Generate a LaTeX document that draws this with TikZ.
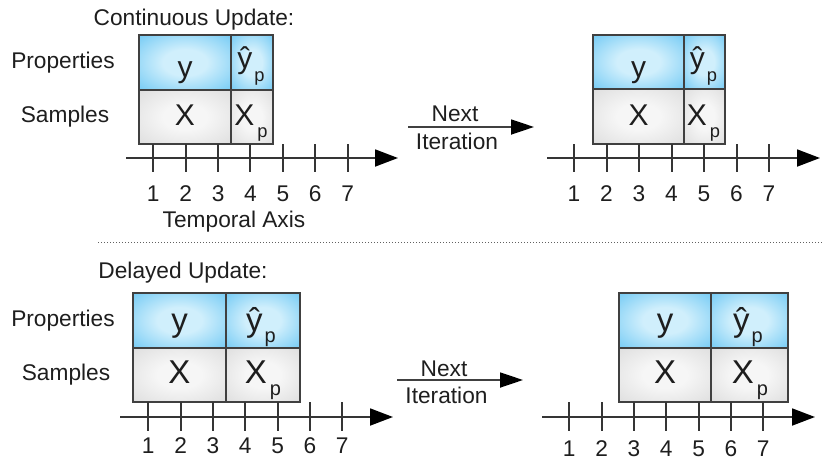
\documentclass[tikz,border=0pt]{standalone}
\usepackage{fontspec}
\setmainfont{Liberation Sans}
\usetikzlibrary{arrows.meta}
\definecolor{bluein}{RGB}{208,239,252}
\definecolor{blueout}{RGB}{62,181,240}
\definecolor{grayin}{RGB}{246,246,246}
\definecolor{grayout}{RGB}{208,208,208}
\definecolor{ink}{RGB}{30,30,30}
\pgfdeclareradialshading{blueshade}{\pgfpoint{0bp}{0bp}}{color(0bp)=(bluein); color(12bp)=(bluein); color(50bp)=(blueout); color(75bp)=(blueout)}
\pgfdeclareradialshading{grayshade}{\pgfpoint{0bp}{0bp}}{color(0bp)=(grayin); color(12bp)=(grayin); color(50bp)=(grayout); color(75bp)=(grayout)}
\newcommand{\yhp}[2]{ŷ\kern2pt\raisebox{#1}{\fontsize{#2}{#2}\selectfont p}}
\newcommand{\Xsp}[2]{X\kern3pt\raisebox{#1}{\fontsize{#2}{#2}\selectfont p}}
\tikzset{
  cell/.style={draw=ink!85, line width=1.7pt, inner sep=0pt, shade},
  bluecell/.style={cell, shading=blueshade},
  graycell/.style={cell, shading=grayshade},
  big/.style={anchor=base, inner sep=0pt, text=ink, font=\fontsize{30}{30}\selectfont},
  bigger/.style={anchor=base, inner sep=0pt, text=ink, font=\fontsize{33}{33}\selectfont},
  lbl/.style={anchor=base, inner sep=0pt, text=ink, font=\fontsize{22.7}{23}\selectfont},
  axisline/.style={draw=ink!90, line width=1.8pt, -{Triangle[length=23pt,width=17pt,black]}},
  tickline/.style={draw=ink!90, line width=1.6pt},
  nextarrow/.style={draw=ink!85, line width=1.8pt, -{Triangle[length=23pt,width=15pt,black]}},
}
\begin{document}
\begin{tikzpicture}[x=1pt,y=-1pt]
\useasboundingbox (0,0) rectangle (822,461);
% ---------------- top-left
\node[lbl] (tlTitle) at (194,25) {Continuous Update:};
\node[lbl] (tlProp) at (63,68) {Properties};
\node[lbl] (tlSamp) at (65,122.5) {Samples};
\node[bluecell, minimum width=92pt, minimum height=55pt] (tlY) at (185,62.5) {};
\node[bluecell, minimum width=42pt, minimum height=55pt] (tlYp) at (252,62.5) {};
\node[graycell, minimum width=92pt, minimum height=54pt] (tlX) at (185,117) {};
\node[graycell, minimum width=42pt, minimum height=54pt] (tlXp) at (252,117) {};
\node[big] (tlYt) at (185,77) {y};
\node[big] (tlYpt) at (251,68.7) {\yhp{-12.3pt}{18.3}};
\node[big] (tlXt) at (185,125) {X};
\node[big] (tlXpt) at (251,125.5) {\Xsp{-11.5pt}{18.3}};
\coordinate (tlA0) at (126,158);
\coordinate (tlA1) at (398,158);
\draw[axisline] (tlA0) -- (tlA1);
\foreach \i in {1,...,7}{
  \coordinate (tlT\i) at ({round(153.3+32.4*(\i-1))},144);
  \draw[tickline] (tlT\i) -- ++(0,28);
  \node[lbl] (tlN\i) at ({153.3+32.4*(\i-1)},201.5) {\i};
}
\node[lbl] (tlAxis) at (234,227.5) {Temporal Axis};
% next arrow top
\coordinate (tnA0) at (408,127);
\coordinate (tnA1) at (534,127);
\draw[nextarrow] (tnA0) -- (tnA1);
\node[lbl] (tnNext) at (455,121.7) {Next};
\node[lbl] (tnIter) at (457,149) {Iteration};
% ---------------- top-right
\node[bluecell, minimum width=91pt, minimum height=54pt] (trY) at (638.5,62) {};
\node[bluecell, minimum width=41pt, minimum height=54pt] (trYp) at (704.5,62) {};
\node[graycell, minimum width=91pt, minimum height=55pt] (trX) at (638.5,116.5) {};
\node[graycell, minimum width=41pt, minimum height=55pt] (trXp) at (704.5,116.5) {};
\node[big] (trYt) at (638.5,77) {y};
\node[big] (trYpt) at (703.5,68.7) {\yhp{-12.3pt}{18.3}};
\node[big] (trXt) at (638.5,125) {X};
\node[big] (trXpt) at (703.5,125.5) {\Xsp{-11.5pt}{18.3}};
\coordinate (trA0) at (547,158);
\coordinate (trA1) at (820,158);
\draw[axisline] (trA0) -- (trA1);
\foreach \i in {1,...,7}{
  \coordinate (trT\i) at ({round(574+32.5*(\i-1))},144);
  \draw[tickline] (trT\i) -- ++(0,28);
  \node[lbl] (trN\i) at ({574+32.5*(\i-1)},201.5) {\i};
}
% separator
\coordinate (sep0) at (98,242);
\coordinate (sep1) at (822,242);
\draw[ink!70, line width=1pt, dash pattern=on 1.2pt off 1.8pt] (sep0) -- (sep1);
% ---------------- bottom-left
\node[lbl] (blTitle) at (183,278) {Delayed Update:};
\node[lbl] (blProp) at (63,326.5) {Properties};
\node[lbl] (blSamp) at (66,380.5) {Samples};
\node[bluecell, minimum width=93pt, minimum height=55pt] (blY) at (179.5,320.5) {};
\node[bluecell, minimum width=74pt, minimum height=55pt] (blYp) at (263,320.5) {};
\node[graycell, minimum width=93pt, minimum height=54pt] (blX) at (179.5,375) {};
\node[graycell, minimum width=74pt, minimum height=54pt] (blXp) at (263,375) {};
\node[bigger] (blYt) at (179.5,331) {y};
\node[bigger] (blYpt) at (261,331) {\yhp{-11pt}{20}};
\node[bigger] (blXt) at (179.5,383) {X};
\node[bigger] (blXpt) at (263,383) {\Xsp{-12.5pt}{20}};
\coordinate (blA0) at (120,417);
\coordinate (blA1) at (393,417);
\draw[axisline] (blA0) -- (blA1);
\foreach \i in {1,...,7}{
  \coordinate (blT\i) at ({round(148.3+32.33*(\i-1))},402);
  \draw[tickline] (blT\i) -- ++(0,29);
  \node[lbl] (blN\i) at ({148.3+32.33*(\i-1)},453.3) {\i};
}
% next arrow bottom
\coordinate (bnA0) at (397,380);
\coordinate (bnA1) at (523,380);
\draw[nextarrow] (bnA0) -- (bnA1);
\node[lbl] (bnNext) at (444,376) {Next};
\node[lbl] (bnIter) at (446.5,403) {Iteration};
% ---------------- bottom-right
\node[bluecell, minimum width=92.5pt, minimum height=55pt] (brY) at (665,320.5) {};
\node[bluecell, minimum width=77pt, minimum height=55pt] (brYp) at (749.7,320.5) {};
\node[graycell, minimum width=92.5pt, minimum height=54pt] (brX) at (665,375) {};
\node[graycell, minimum width=77pt, minimum height=54pt] (brXp) at (749.7,375) {};
\node[bigger] (brYt) at (665,331) {y};
\node[bigger] (brYpt) at (748,331) {\yhp{-11pt}{20}};
\node[bigger] (brXt) at (665,383) {X};
\node[bigger] (brXpt) at (750,383) {\Xsp{-12.5pt}{20}};
\coordinate (brA0) at (542,417);
\coordinate (brA1) at (815,417);
\draw[axisline] (brA0) -- (brA1);
\foreach \i in {1,...,7}{
  \coordinate (brT\i) at ({round(569.3+32.33*(\i-1))},402);
  \draw[tickline] (brT\i) -- ++(0,28.5);
  \node[lbl] (brN\i) at ({569.3+32.33*(\i-1)},456.5) {\i};
}
\end{tikzpicture}
\end{document}
